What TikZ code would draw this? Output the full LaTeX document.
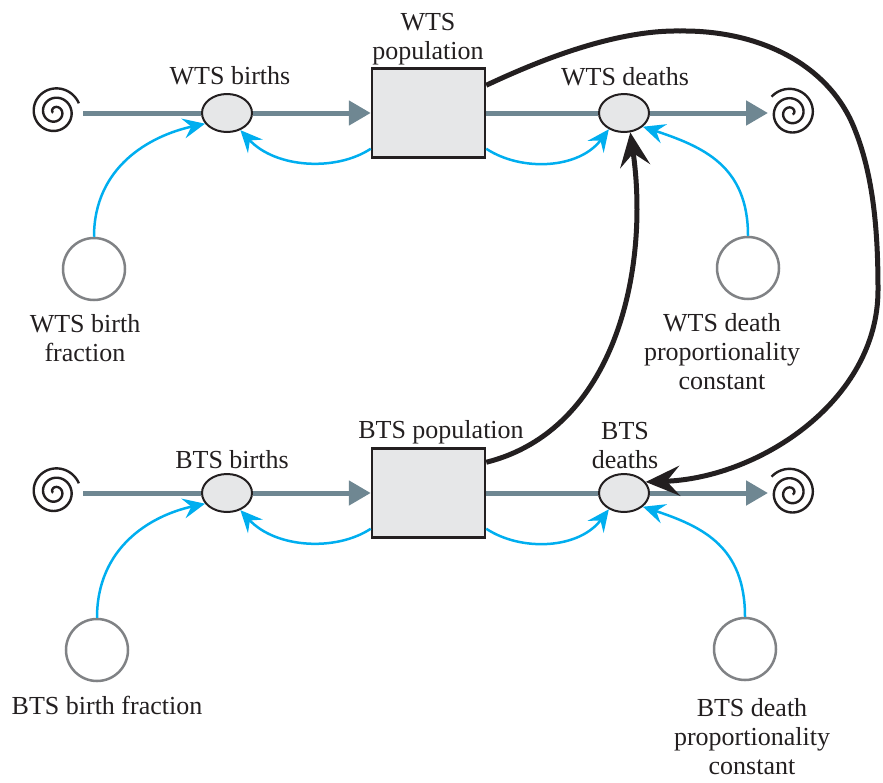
\documentclass[tikz,border=0pt]{standalone}
\usepackage{fontspec}
\setmainfont{Liberation Serif}
\usetikzlibrary{arrows.meta,shapes.geometric,calc}
\definecolor{flowc}{HTML}{6F8792}
\definecolor{linkc}{HTML}{00AEEF}
\definecolor{fillc}{HTML}{E6E7E8}
\definecolor{auxc}{HTML}{808285}
\definecolor{inkc}{HTML}{231F20}
% #1 centre, #2 x-sign, #3 angle offset
\newcommand\drawspiral[3]{%
  \begin{scope}[shift={(#1)}]
    \draw[spiralst] plot[domain=0:900, samples=200, variable=\t]
      ({#2*(2+0.026*\t)*cos(#3-\t)},{-(2+0.026*\t)*sin(#3-\t)});
  \end{scope}}
\begin{document}
\begin{tikzpicture}[x=1pt,y=-1pt,
  font=\fontsize{26}{29}\selectfont,
  valve/.style={ellipse, draw=inkc, line width=2pt, fill=fillc, minimum width=50pt, minimum height=38pt, inner sep=0pt},
  stock/.style={rectangle, draw=inkc, line width=2.5pt, fill=fillc, minimum width=113pt, minimum height=89pt, inner sep=0pt},
  aux/.style={circle, draw=auxc, line width=2.5pt, minimum size=62pt, inner sep=0pt},
  lbl/.style={align=center, text=inkc, inner sep=0pt},
  flow/.style={draw=flowc, line width=5pt},
  flowarr/.style={flow, -{Triangle[length=22pt,width=24pt]}},
  link/.style={draw=linkc, line width=2.5pt, -{Stealth[length=22pt,width=20pt,inset=8pt]}},
  infl/.style={draw=inkc, line width=5pt, -{Stealth[length=34pt,width=30pt,inset=13pt]}},
  spiralst/.style={draw=inkc, line width=2.4pt}]
\useasboundingbox (0,0) rectangle (883,782);

% ---------- WTS row ----------
\coordinate (wsrc) at (55,112);
\coordinate (wsrcend) at (83,113);
\coordinate (wsink) at (791,113);
\coordinate (wsinkend) at (768,113);
\node[valve] (wbv) at (227,113) {};
\node[stock] (wst) at (428.5,113) {};
\node[valve] (wdv) at (624,113) {};
\node[aux] (wbf) at (94,269) {};
\node[aux] (wdc) at (748,268) {};

% ---------- BTS row ----------
\coordinate (bsrc) at (55,492);
\coordinate (bsrcend) at (83,493);
\coordinate (bsink) at (791,493);
\coordinate (bsinkend) at (768,493);
\node[valve] (bbv) at (227,493) {};
\node[stock] (bst) at (428.5,493) {};
\node[valve] (bdv) at (624,493) {};
\node[aux] (bbf) at (97,650) {};
\node[aux] (bdc) at (745,649) {};

% spirals
\drawspiral{wsrc}{1}{200}
\drawspiral{wsink}{-1}{220}
\drawspiral{bsrc}{1}{200}
\drawspiral{bsink}{-1}{220}

% flows
\draw[flow] (wsrcend) -- (wbv.west);
\draw[flowarr] (wbv.east) -- (wst.west);
\draw[flow] (wst.east) -- (wdv.west);
\draw[flowarr] (wdv.east) -- (wsinkend);
\draw[flow] (bsrcend) -- (bbv.west);
\draw[flowarr] (bbv.east) -- (bst.west);
\draw[flow] (bst.east) -- (bdv.west);
\draw[flowarr] (bdv.east) -- (bsinkend);

% blue links
\draw[link] (wbf.north) .. controls +(0,-70) and +(-55,12) .. (wbv.206);
\draw[link] ($(wst.south west)+(0,-10)$) .. controls +(-35,23) and +(35,38) .. (wbv.308);
\draw[link] ($(wst.south east)+(0,-10)$) .. controls +(35,23) and +(-30,40) .. (wdv.227);
\draw[link] (wdc.north) .. controls +(0,-70) and +(60,20) .. (wdv.324);
\draw[link] (bbf.north) .. controls +(0,-70) and +(-55,12) .. (bbv.206);
\draw[link] ($(bst.south west)+(0,-10)$) .. controls +(-35,23) and +(35,38) .. (bbv.308);
\draw[link] ($(bst.south east)+(0,-10)$) .. controls +(35,23) and +(-30,40) .. (bdv.227);
\draw[link] (bdc.north) .. controls +(0,-70) and +(60,20) .. (bdv.324);

% black influence arrows
\draw[infl] ($(wst.north east)+(0,18)$) .. controls (540,60) and (615,30) .. (680,31)
  .. controls (760,30) and (830,65) .. (855,130)
  .. controls (875,180) and (878,240) .. (878,290)
  .. controls (878,400) and (760,478) .. (bdv.27);
\draw[infl] ($(bst.north east)+(0,15)$) .. controls (615,430) and (650,270) .. (wdv.288);

% labels
\node[lbl] (lwb) at (230,76) {WTS births};
\node[lbl] (lwp) at (428,39) {WTS\\population};
\node[lbl] (lwd) at (625,77) {WTS deaths};
\node[lbl] (lwbf) at (85,338) {WTS birth\\fraction};
\node[lbl] (lwdc) at (722,352) {WTS death\\proportionality\\constant};
\node[lbl] (lbb) at (232,460) {BTS births};
\node[lbl] (lbp) at (441,432) {BTS population};
\node[lbl] (lbd) at (625,446) {BTS\\deaths};
\node[lbl] (lbbf) at (107,705) {BTS birth fraction};
\node[lbl] (lbdc) at (752,737) {BTS death\\proportionality\\constant};
\end{tikzpicture}
\end{document}
